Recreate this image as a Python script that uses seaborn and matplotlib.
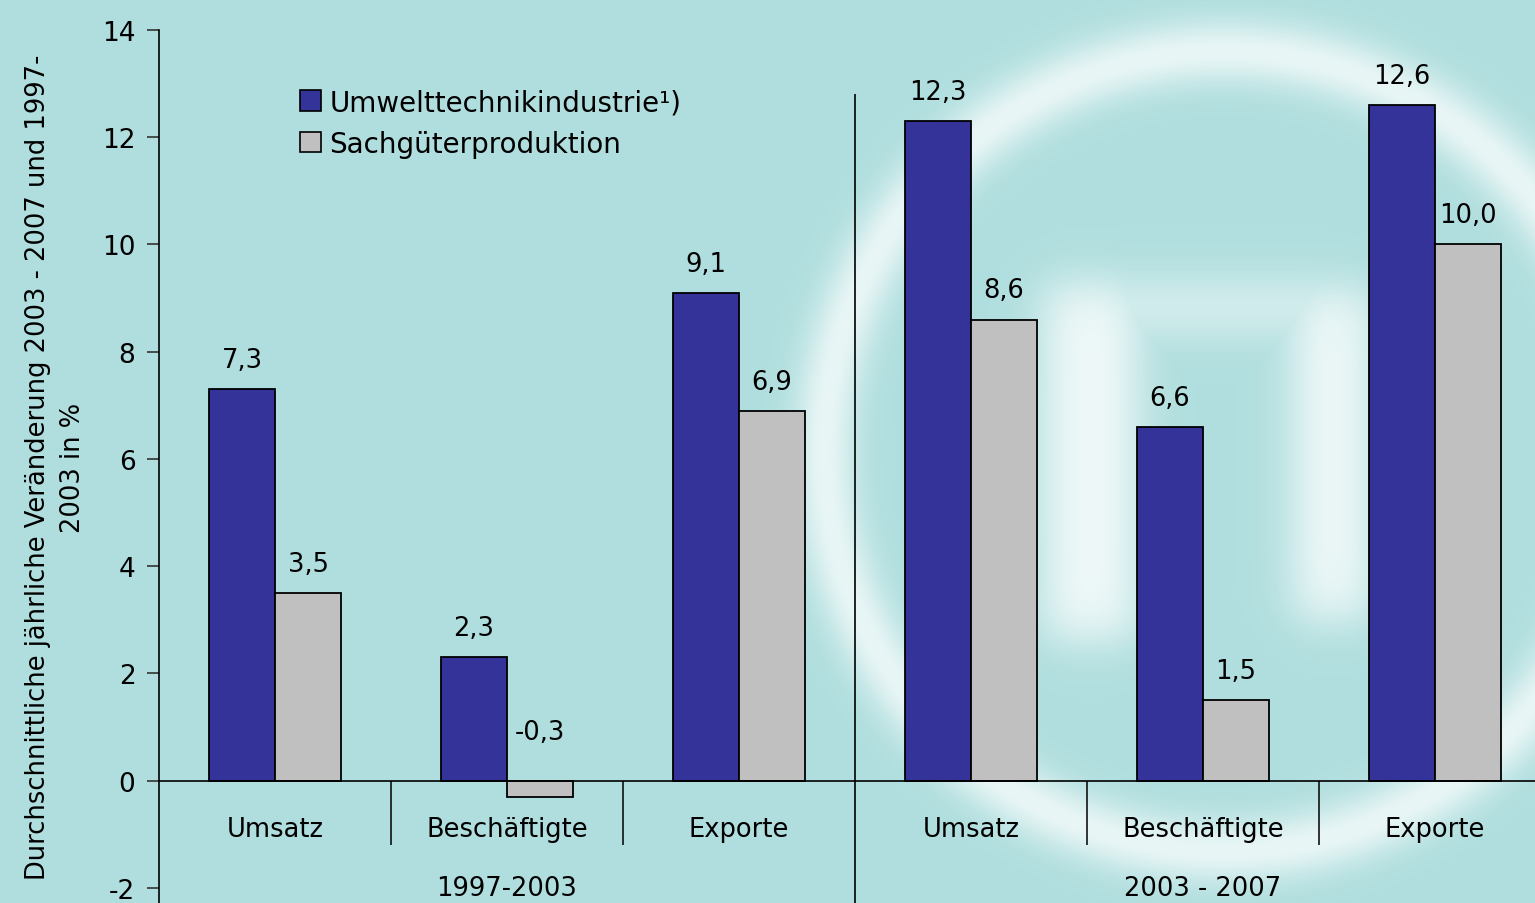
import numpy as np
import pandas as pd
import seaborn as sns
import matplotlib
matplotlib.use("Agg")
import matplotlib.pyplot as plt
from matplotlib.patches import Rectangle

# ---- data ----
categories = ["Umsatz", "Beschäftigte", "Exporte", "Umsatz", "Beschäftigte", "Exporte"]
periods = ["1997-2003", "2003 - 2007"]
umwelt = [7.3, 2.3, 9.1, 12.3, 6.6, 12.6]
sachgueter = [3.5, -0.3, 6.9, 8.6, 1.5, 10.0]
series_names = ["Umwelttechnikindustrie¹)", "Sachgüterproduktion"]
yticks = [-2, 0, 2, 4, 6, 8, 10, 12, 14]
ylabel = "Durchschnittliche jährliche Veränderung 2003 - 2007 und 1997-\n2003 in %"

slots = [str(i) for i in range(len(categories))]
df = pd.DataFrame({
    "slot": slots * 2,
    "series": [series_names[0]] * len(slots) + [series_names[1]] * len(slots),
    "value": umwelt + sachgueter,
})

BG = np.array([0xb0, 0xde, 0xde]) / 255.0
BLUE = "#333399"
GREY = "#c0c0c0"

sns.set_theme(style="white")
plt.rcParams["font.family"] = ["DejaVu Sans"]
for k in ["text.color", "axes.labelcolor", "xtick.color", "ytick.color"]:
    plt.rcParams[k] = "black"

W, H = 1535, 904
fig = plt.figure(figsize=(W / 100, H / 100), dpi=100, facecolor=BG)

# ---- decorative watermark background (soft white ring + arch) ----
yy, xx = np.mgrid[0:H, 0:W].astype(float)
r = np.hypot(xx - 1224, yy - 452)
ring = 0.72 * np.exp(-((r - 400) / 32) ** 2)

def sig(z):
    return 1 / (1 + np.exp(-z))

def soft_rect(x0, x1, y0, y1, s=14):
    return sig((xx - x0) / s) * sig((x1 - xx) / s) * sig((yy - y0) / s) * sig((y1 - yy) / s)

arch = np.maximum.reduce([
    soft_rect(1045, 1135, 285, 640),
    soft_rect(1295, 1370, 290, 620),
    0.7 * soft_rect(1045, 1370, 285, 330),
]) * 0.85
inten = np.clip(np.maximum(ring, arch), 0, 1)[..., None]
img = BG[None, None, :] * (1 - inten) + inten

bg = fig.add_axes([0, 0, 1, 1], zorder=0)
bg.imshow(img, extent=(0, W, H, 0), aspect="auto", interpolation="bilinear")
bg.set_xlim(0, W)
bg.set_ylim(H, 0)
bg.axis("off")

# ---- main axes ----
left = 159 / W
ax = fig.add_axes([left, 0, 1 - left, (H - 31) / H], zorder=1)
ax.patch.set_alpha(0)

sns.barplot(data=df, x="slot", y="value", hue="series", order=slots,
            hue_order=series_names, palette=[BLUE, GREY], width=0.57,
            edgecolor="black", linewidth=1.3, saturation=1, ax=ax)

ax.set_ylim(-2 - (904 - 889) / 53.6, 14)
ax.set_xlim(-0.5, -0.5 + (W - 159) / 232)
ax.set_yticks(yticks)
ax.set_yticklabels([str(t) for t in yticks], fontsize=19)
ax.tick_params(axis="y", direction="out", length=9, width=1.2, color="#333333", pad=8, left=True)
ax.tick_params(axis="x", bottom=False, labelbottom=False)
ax.set_xlabel("")
ax.set_ylabel(ylabel, fontsize=18.5, linespacing=1.45)
ax.yaxis.set_label_coords((86 - 159) / (W - 159), 0.5)

for s in ["top", "right", "bottom"]:
    ax.spines[s].set_visible(False)
ax.spines["left"].set_color("black")
ax.spines["left"].set_linewidth(1.2)

ax.axhline(0, color="black", lw=1.2, zorder=3)

# value labels
for cont in ax.containers:
    for p in cont:
        val = p.get_height()
        xc = p.get_x() + p.get_width() / 2
        txt = f"{val:.1f}".replace(".", ",")
        off = 21 if val >= 0 else 35
        ax.annotate(txt, (xc, max(val, 0)), xytext=(0, off), textcoords="offset points",
                    ha="center", va="center", fontsize=18.5, color="black")

# category labels and separators
for i, cat in enumerate(categories):
    ax.text(i, -0.9, cat, ha="center", va="center", fontsize=18.5)
for b in [0.5, 1.5, 3.5, 4.5]:
    ax.vlines(b, -1.2, 0, color="black", lw=1.1)
ax.vlines(2.5, ax.get_ylim()[0], 12.8, color="black", lw=1.2)

# period labels
ax.text(1, -2.0, periods[0], ha="center", va="center", fontsize=18.5)
ax.text(4, -2.0, periods[1], ha="center", va="center", fontsize=18.5)

# legend
handles = [Rectangle((0, 0), 1, 1, fc=BLUE, ec="black", lw=1.2),
           Rectangle((0, 0), 1, 1, fc=GREY, ec="black", lw=1.2)]
ax.legend(handles, series_names, loc="upper left",
          bbox_to_anchor=((289 - 159) / (W - 159), 1 - (78 - 31) / (H - 31)),
          frameon=False, fontsize=20, handlelength=0.75, handleheight=0.75,
          handletextpad=0.3, labelspacing=0.5, borderaxespad=0)

fig.savefig("out.png", dpi=100, facecolor=BG)
